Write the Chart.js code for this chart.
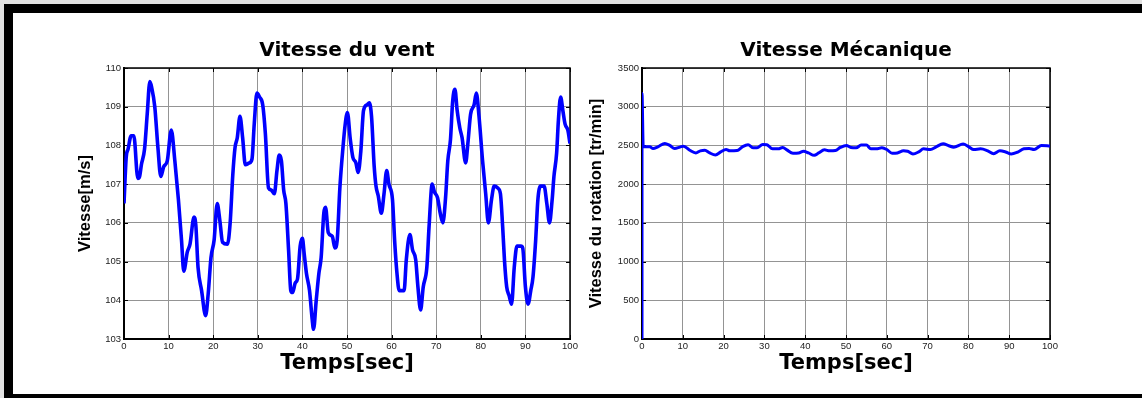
<!DOCTYPE html>
<html>
<head>
<meta charset="utf-8">
<script src="https://cdn.jsdelivr.net/npm/chart.js@4.4.0/dist/chart.umd.min.js"></script>
<style>
  html, body { margin: 0; padding: 0; background: #e2e2e2; }
  body { width: 1142px; height: 398px; position: relative; overflow: hidden; }
  #cadre { position: absolute; left: 4px; top: 4px; right: 0; bottom: 0; background: #fff;
           border-top: 9px solid #000; border-left: 9px solid #000; border-bottom: 4px solid #000; }
  canvas { position: absolute; top: 14px; }
  #graphVent { left: 14px; }
  #graphMeca { left: 580px; }
</style>
</head>
<body>
<div id="cadre"></div>
<canvas id="graphVent" width="566" height="379"></canvas>
<canvas id="graphMeca" width="562" height="379"></canvas>
<script>
// Vitesse du vent : temps [s] et vitesse [m/s]
const tVent = [
  0, 0.5, 0.9, 1.6, 2.2, 3.1, 3.5, 3.9, 4.6, 5.2,
  5.8, 6.2, 6.9, 7.6, 8.25, 8.9, 9.7, 10.6, 11.4, 12.2,
  12.9, 13.4, 14.2, 14.8, 15.7, 16.1, 16.6, 17.4, 18.3, 18.9,
  19.5, 20.2, 20.9, 21.5, 22.1, 23.2, 23.8, 24.4, 24.9, 25.4,
  26.0, 26.6, 27.2, 28.1, 28.7, 29.2, 29.8, 30.4, 31.1, 31.7,
  32.4, 33.0, 33.7, 34.3, 34.8, 35.3, 35.8, 36.3, 36.9, 37.4,
  37.8, 38.4, 38.9, 39.5, 40.0, 40.4, 40.9, 41.6, 42.2, 42.5,
  43.1, 43.7, 44.2, 44.8, 45.2, 45.8, 46.7, 47.3, 47.8, 48.4,
  49.1, 49.6, 50.1, 50.7, 51.3, 52.0, 52.5, 53.1, 53.7, 54.5,
  55.0, 55.5, 56.1, 56.5, 57.0, 57.7, 58.3, 58.9, 59.4, 60.2,
  60.7, 61.2, 61.7, 62.8, 63.3, 64.1, 64.7, 65.4, 65.9, 66.5,
  67.1, 67.9, 68.4, 69.1, 69.6, 70.3, 70.9, 71.5, 72.1, 72.6,
  73.2, 73.7, 74.2, 74.7, 75.3, 75.8, 76.6, 77.1, 77.7, 78.5,
  79.0, 79.6, 80.4, 81.1, 81.7, 82.4, 83.0, 83.8, 84.4, 84.9,
  85.3, 85.8, 86.4, 86.9, 87.5, 88.1, 89.0, 89.4, 90.0, 90.6,
  91.2, 91.7, 92.3, 92.8, 93.4, 94.2, 94.8, 95.4, 96.0, 96.4,
  97.0, 97.4, 97.9, 98.4, 98.9, 99.5, 100
];
const vVent = [
  106.5, 107.7, 107.9, 108.25, 108.25, 107.15, 107.2, 107.5, 107.9, 108.8,
  109.65, 109.5, 109.0, 107.95, 107.2, 107.45, 107.6, 108.4, 107.6, 106.6,
  105.55, 104.75, 105.25, 105.45, 106.15, 105.95, 104.85, 104.25, 103.6, 104.2,
  105.1, 105.55, 106.5, 106.05, 105.5, 105.45, 106.0, 107.25, 107.95, 108.2,
  108.75, 108.2, 107.5, 107.55, 107.65, 108.55, 109.35, 109.25, 109.05, 108.3,
  106.9, 106.85, 106.75, 107.35, 107.75, 107.6, 106.85, 106.5, 105.3, 104.25,
  104.2, 104.45, 104.55, 105.4, 105.6, 105.2, 104.7, 104.25, 103.5, 103.25,
  104.0, 104.7, 105.1, 106.25, 106.4, 105.75, 105.65, 105.35, 105.55, 106.9,
  107.95, 108.55, 108.85, 108.2, 107.7, 107.55, 107.3, 107.85, 108.9, 109.05,
  109.1, 108.75, 107.45, 106.95, 106.7, 106.25, 106.75, 107.35, 107.0, 106.6,
  105.5, 104.7, 104.25, 104.25, 105.05, 105.7, 105.3, 105.05, 104.35, 103.75,
  104.35, 104.85, 105.9, 107.0, 106.8, 106.65, 106.25, 106.0, 106.65, 107.6,
  108.15, 109.15, 109.45, 108.9, 108.45, 108.2, 107.55, 108.05, 108.8, 109.05,
  109.35, 108.75, 107.6, 106.75, 106.0, 106.6, 106.95, 106.9, 106.75, 105.9,
  105.05, 104.35, 104.1, 103.9, 104.85, 105.4, 105.4, 105.35, 104.35, 103.9,
  104.25, 104.6, 105.55, 106.6, 106.95, 106.95, 106.5, 106.0, 106.6, 107.2,
  107.8, 108.65, 109.25, 108.9, 108.55, 108.4, 108.05
];

// Vitesse mécanique : temps [s] et vitesse de rotation [tr/min]
const tMeca = [
  0, 0, 0.3, 1.9, 2.7, 3.9, 5.6, 6.8, 8.0, 9.3,
  10.2, 11.7, 13.2, 14.3, 15.4, 16.6, 18.0, 19.3, 20.6, 21.5,
  23.3, 24.6, 26.0, 27.3, 28.2, 29.6, 30.6, 32.0, 33.4, 34.5,
  35.5, 37.0, 38.4, 39.6, 40.8, 42.2, 43.3, 44.7, 46.0, 47.4,
  48.6, 50.1, 51.2, 52.5, 53.7, 55.0, 56.1, 57.4, 58.8, 60.0,
  61.3, 62.6, 64.1, 65.1, 66.4, 67.8, 69.0, 70.7, 72.1, 73.8,
  75.2, 76.4, 78.7, 80.1, 81.3, 83.0, 84.6, 86.2, 87.7, 89.1,
  90.5, 92.0, 93.6, 94.9, 96.1, 97.9, 100
];
const vMeca = [
  0, 3170, 2485, 2482, 2460, 2482, 2526, 2500, 2460, 2478,
  2491, 2438, 2403, 2430, 2438, 2403, 2377, 2416, 2447, 2430,
  2434, 2482, 2509, 2469, 2469, 2513, 2509, 2456, 2456, 2474,
  2443, 2399, 2403, 2425, 2403, 2372, 2403, 2443, 2430, 2434,
  2474, 2500, 2474, 2469, 2504, 2504, 2456, 2456, 2469, 2447,
  2399, 2403, 2430, 2425, 2390, 2416, 2456, 2447, 2482, 2522,
  2496, 2478, 2517, 2482, 2447, 2456, 2434, 2394, 2430, 2416,
  2390, 2412, 2456, 2460, 2447, 2500, 2491
];

// Cadre noir + petites graduations vers l'intérieur (style MATLAB)
const cadreAxes = {
  id: "cadreAxes",
  beforeDatasetsDraw(chart) {
    const { ctx, chartArea: a, scales } = chart;
    ctx.save();
    ctx.strokeStyle = "#000";
    ctx.lineWidth = 1;
    ctx.beginPath();
    scales.x.ticks.forEach((t) => {
      const px = Math.round(scales.x.getPixelForValue(t.value)) + 0.5;
      ctx.moveTo(px, a.top); ctx.lineTo(px, a.top + 4);
      ctx.moveTo(px, a.bottom); ctx.lineTo(px, a.bottom - 4);
    });
    scales.y.ticks.forEach((t) => {
      const py = Math.round(scales.y.getPixelForValue(t.value)) + 0.5;
      ctx.moveTo(a.left, py); ctx.lineTo(a.left + 4, py);
      ctx.moveTo(a.right, py); ctx.lineTo(a.right - 4, py);
    });
    ctx.stroke();
    ctx.lineWidth = 1.5;
    ctx.strokeRect(a.left, a.top, a.right - a.left, a.bottom - a.top);
    ctx.restore();
  },
};

function creerGraphe(id, tx, vy, titre, titreY, yMin, yMax, yPas, largeurY, padTitreY, padDroite, epaisseur) {
  return new Chart(document.getElementById(id), {
    type: "line",
    data: {
      datasets: [{
        data: tx.map((t, i) => ({ x: t, y: vy[i] })),
        borderColor: "#0000ff",
        borderWidth: epaisseur,
        pointRadius: 0,
        cubicInterpolationMode: "monotone",
        borderJoinStyle: "round",
        fill: false,
      }],
    },
    options: {
      responsive: false,
      animation: false,
      layout: { padding: { left: 0, right: padDroite, top: 0, bottom: 0 } },
      plugins: {
        legend: { display: false },
        tooltip: { enabled: false },
        title: {
          display: true,
          text: titre,
          fullSize: false,
          color: "#000",
          font: { family: "DejaVu Sans", size: 20, weight: "bold", lineHeight: 1.2 },
          padding: { top: 25, bottom: 5 },
        },
      },
      scales: {
        x: {
          type: "linear",
          min: 0,
          max: 100,
          ticks: { stepSize: 10, color: "#222", padding: 2, maxRotation: 0,
                   font: { family: "Liberation Sans", size: 9.5 } },
          grid: { color: "#949494", lineWidth: 1, drawTicks: false },
          border: { color: "#000", width: 2 },
          title: {
            display: true,
            text: "Temps[sec]",
            color: "#000",
            font: { family: "DejaVu Sans", size: 21, weight: "bold", lineHeight: 1.2 },
            padding: { top: 0, bottom: 17 },
          },
          afterFit: (s) => { s.height = 54; },
        },
        y: {
          type: "linear",
          min: yMin,
          max: yMax,
          ticks: { stepSize: yPas, color: "#222", padding: 3,
                   format: { useGrouping: false },
                   font: { family: "Liberation Sans", size: 9.5 } },
          grid: { color: "#949494", lineWidth: 1, drawTicks: false },
          border: { color: "#000", width: 2 },
          title: {
            display: true,
            text: titreY,
            color: "#000",
            font: { family: "Liberation Sans", size: 16.5, weight: "bold", lineHeight: 1.2 },
            padding: { top: padTitreY, bottom: 0 },
          },
          afterFit: (s) => { s.width = largeurY; },
        },
      },
    },
    plugins: [cadreAxes],
  });
}

creerGraphe("graphVent", tVent, vVent, "Vitesse du vent", "Vitesse[m/s]",
            103, 110, 1, 110, 62, 10, 3.6);
creerGraphe("graphMeca", tMeca, vMeca, "Vitesse Mécanique", "Vitesse du rotation [tr/min]",
            0, 3500, 500, 62, 7, 92, 3);
</script>
</body>
</html>
